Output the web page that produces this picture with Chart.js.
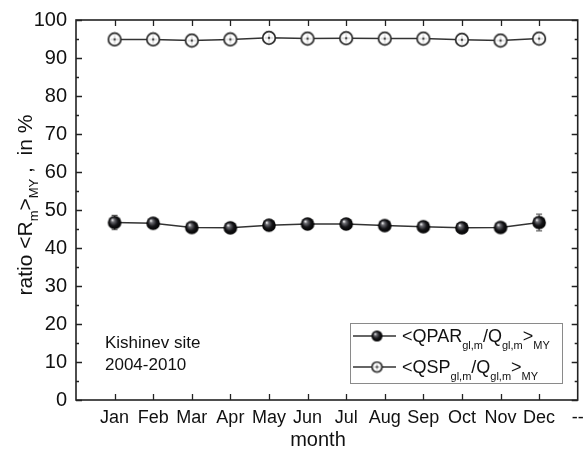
<!DOCTYPE html>
<html><head><meta charset="utf-8">
<script src="https://cdn.jsdelivr.net/npm/chart.js@4.4.0/dist/chart.umd.min.js"></script>
<style>html,body{margin:0;padding:0;background:#fff}#wrap{width:586px;height:450px;position:relative}</style>
</head><body><div id="wrap"><canvas id="c" width="586" height="450"></canvas></div>
<script>
// ---- data ----
const months = ['Jan','Feb','Mar','Apr','May','Jun','Jul','Aug','Sep','Oct','Nov','Dec'];
const trailingTickLabel = '--';
const qparValues = [46.7, 46.5, 45.4, 45.3, 46.0, 46.3, 46.3, 45.9, 45.6, 45.3, 45.4, 46.7];
const qparErrors = [1.9, 1.0, 0.9, 0.9, 0.9, 0.9, 0.9, 0.9, 0.9, 0.9, 0.9, 2.2];
const qspValues  = [94.9, 94.9, 94.6, 94.9, 95.3, 95.1, 95.2, 95.1, 95.1, 94.8, 94.6, 95.1];
const yMin = 0, yMax = 100, yStep = 10;
const siteLines = ['Kishinev site', '2004-2010'];
const xTitle = 'month';

const FONT = '"Liberation Sans", Arial, Helvetica, sans-serif';
const INK = '#222';

function makeSphere(r) {
  const s = Math.ceil(2 * r + 2), c = document.createElement('canvas');
  c.width = s; c.height = s;
  const g = c.getContext('2d'), m = s / 2;
  const grad = g.createRadialGradient(m - r * 0.35, m - r * 0.4, r * 0.05, m, m, r);
  grad.addColorStop(0, '#f4f4f4');
  grad.addColorStop(0.22, '#6a6a70');
  grad.addColorStop(0.6, '#151518');
  grad.addColorStop(1, '#000');
  g.beginPath(); g.arc(m, m, r, 0, Math.PI * 2); g.fillStyle = grad; g.fill();
  return c;
}
function makeOpen(r) {
  const s = Math.ceil(2 * r + 3), c = document.createElement('canvas');
  c.width = s; c.height = s;
  const g = c.getContext('2d'), m = s / 2;
  g.beginPath(); g.arc(m, m, r, 0, Math.PI * 2); g.fillStyle = '#fff'; g.fill();
  g.lineWidth = 1.7; g.strokeStyle = '#2a2a2a'; g.stroke();
  g.strokeStyle = '#c8c8c8'; g.lineWidth = 1;
  g.beginPath(); g.moveTo(m - r + 2, m); g.lineTo(m + r - 2, m); g.moveTo(m, m - r + 2); g.lineTo(m, m + r - 2); g.stroke();
  g.beginPath(); g.arc(m, m, 1.2, 0, Math.PI * 2); g.fillStyle = '#444'; g.fill();
  return c;
}
const sphereBig = makeSphere(6.8), sphereSmall = makeSphere(5.5);
const openBig = makeOpen(6.3), openSmall = makeOpen(5);

const toXY = (arr) => arr.map((v, i) => ({ x: i + 1, y: v }));
const xTickLabels = [''].concat(months, [trailingTickLabel]);

function drawRich(ctx, x, y, parts, mainPx, subPx, subShift) {
  let cx = x;
  for (const [t, sub] of parts) {
    ctx.font = (sub ? subPx : mainPx) + 'px ' + FONT;
    ctx.fillText(t, cx, y + (sub ? subShift : 0));
    cx += ctx.measureText(t).width;
  }
  return cx - x;
}
function richWidth(ctx, parts, mainPx, subPx) {
  let w = 0;
  for (const [t, sub] of parts) { ctx.font = (sub ? subPx : mainPx) + 'px ' + FONT; w += ctx.measureText(t).width; }
  return w;
}

const decor = {
  id: 'decor',
  beforeDatasetsDraw(chart) {
    const { ctx, scales: { x, y } } = chart;
    ctx.save();
    ctx.strokeStyle = '#666'; ctx.lineWidth = 1.2;
    qparValues.forEach((v, i) => {
      const px = x.getPixelForValue(i + 1);
      const t = y.getPixelForValue(v + qparErrors[i]), b = y.getPixelForValue(v - qparErrors[i]);
      ctx.beginPath(); ctx.moveTo(px, t); ctx.lineTo(px, b);
      ctx.moveTo(px - 3, t); ctx.lineTo(px + 3, t); ctx.moveTo(px - 3, b); ctx.lineTo(px + 3, b); ctx.stroke();
    });
    ctx.restore();
  },
  afterDraw(chart) {
    const { ctx, chartArea: a, scales: { x, y } } = chart;
    ctx.save();
    ctx.strokeStyle = INK; ctx.lineWidth = 1.6;
    ctx.strokeRect(a.left, a.top, a.right - a.left, a.bottom - a.top);
    ctx.lineWidth = 1.3;
    ctx.beginPath();
    months.forEach((m, i) => {
      const px = Math.round(x.getPixelForValue(i + 1)) + 0.5;
      ctx.moveTo(px, a.bottom); ctx.lineTo(px, a.bottom - 6);
      ctx.moveTo(px, a.top); ctx.lineTo(px, a.top + 6);
    });
    for (let v = yMin; v <= yMax; v += yStep / 2) {
      const py = Math.round(y.getPixelForValue(v)) + 0.5;
      const len = (v % yStep === 0) ? 6 : 3;
      ctx.moveTo(a.left, py); ctx.lineTo(a.left + len, py);
      ctx.moveTo(a.right, py); ctx.lineTo(a.right - len, py);
    }
    ctx.stroke();

    ctx.fillStyle = '#111';
    ctx.textBaseline = 'alphabetic';
    ctx.font = '17px ' + FONT;
    ctx.fillText(siteLines[0], 105, 348);
    ctx.fillText(siteLines[1], 105, 370);

    ctx.font = '20px ' + FONT; ctx.textAlign = 'center';
    ctx.fillText(xTitle, 318, 446);
    ctx.textAlign = 'left';

    const yParts = [['ratio <R', false], ['m', true], ['>', false], ['MY', true], [' ,  in %', false]];
    ctx.save();
    ctx.translate(32, 205); ctx.rotate(-Math.PI / 2);
    const w = richWidth(ctx, yParts, 21, 13);
    drawRich(ctx, -w / 2, 0, yParts, 21, 13, 6);
    ctx.restore();

    ctx.fillStyle = '#fff'; ctx.fillRect(350, 323, 213, 61);
    ctx.strokeStyle = '#8a8a8a'; ctx.lineWidth = 1;
    ctx.strokeRect(350.5, 323.5, 212, 60);
    const rows = [
      { y: 336, img: sphereSmall, parts: [['<QPAR', false], ['gl,m', true], ['/Q', false], ['gl,m', true], ['>', false], ['MY', true]] },
      { y: 367, img: openSmall,  parts: [['<QSP', false], ['gl,m', true], ['/Q', false], ['gl,m', true], ['>', false], ['MY', true]] }
    ];
    rows.forEach(r => {
      ctx.strokeStyle = '#333'; ctx.lineWidth = 1.5;
      ctx.beginPath(); ctx.moveTo(353, r.y); ctx.lineTo(396, r.y); ctx.stroke();
      ctx.drawImage(r.img, 377 - r.img.width / 2, r.y - r.img.height / 2);
      ctx.fillStyle = '#111';
      drawRich(ctx, 402, r.y + 6, r.parts, 18, 11, 7);
    });
    ctx.restore();
  }
};

new Chart(document.getElementById('c'), {
  type: 'line',
  data: {
    datasets: [
      { label: 'QPAR', data: toXY(qparValues), borderColor: '#333', borderWidth: 1.5,
        pointStyle: sphereBig, pointRadius: 6.8, fill: false, tension: 0, order: 1 },
      { label: 'QSP', data: toXY(qspValues), borderColor: '#333', borderWidth: 1.5,
        pointStyle: openBig, pointRadius: 6.3, fill: false, tension: 0, order: 2 }
    ]
  },
  options: {
    responsive: false, animation: false, devicePixelRatio: 1,
    layout: { padding: { top: 20, right: 6, left: 0, bottom: 0 } },
    plugins: { legend: { display: false }, tooltip: { enabled: false } },
    scales: {
      x: {
        type: 'linear', min: 0, max: months.length + 1,
        grid: { display: false }, border: { display: false },
        ticks: { stepSize: 1, autoSkip: false, maxRotation: 0, padding: -1,
          color: '#111', font: { family: FONT, size: 18 },
          callback: (v) => xTickLabels[v] ?? '' },
        afterFit: (s) => { s.height = 50; s.paddingLeft = 0; s.paddingRight = 0; }
      },
      y: {
        min: yMin, max: yMax,
        grid: { display: false }, border: { display: false },
        ticks: { stepSize: yStep, padding: 1, color: '#111', font: { family: FONT, size: 20 } },
        afterFit: (s) => { s.width = 76; s.paddingTop = 0; s.paddingBottom = 0; }
      }
    }
  },
  plugins: [decor]
});
</script></body></html>
